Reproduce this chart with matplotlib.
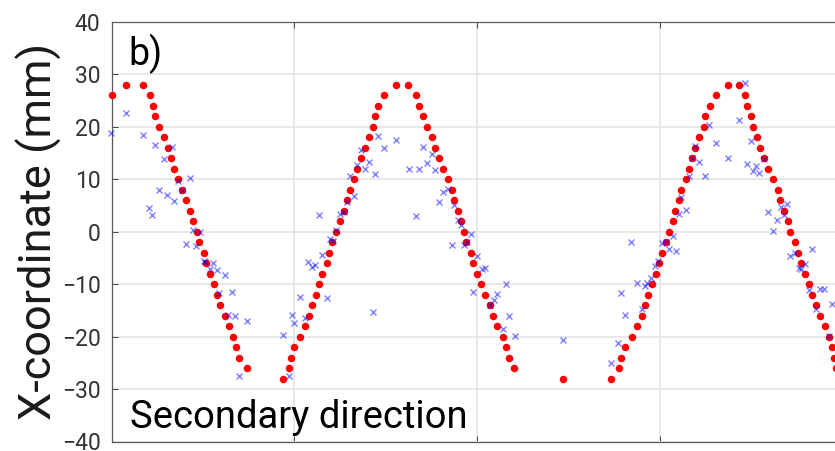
import matplotlib
matplotlib.use("Agg")
import matplotlib.pyplot as plt

# Reference trajectory (red dots): time [s] and X-coordinate [mm]
ref_t = [0.003, 0.079, 0.171, 0.209, 0.226, 0.240, 0.262, 0.286, 0.308, 0.327,
         0.344, 0.366, 0.386, 0.406, 0.428, 0.448, 0.466, 0.481, 0.505, 0.517,
         0.537, 0.559, 0.577, 0.594, 0.623, 0.641, 0.663, 0.680, 0.700, 0.740,
         0.937, 0.970, 0.984, 1.001, 1.032, 1.059, 1.081, 1.099, 1.118, 1.137,
         1.152, 1.178, 1.189, 1.209, 1.230, 1.251, 1.273, 1.287, 1.307, 1.326,
         1.345, 1.367, 1.386, 1.408, 1.433, 1.444, 1.457, 1.492, 1.557, 1.625,
         1.668, 1.683, 1.705, 1.725, 1.753, 1.772, 1.793, 1.814, 1.840, 1.862,
         1.876, 1.897, 1.915, 1.928, 1.942, 1.966, 1.980, 2.002, 2.022, 2.044,
         2.072, 2.088, 2.110, 2.141, 2.159, 2.176, 2.205, 2.470, 2.736, 2.776,
         2.789, 2.811, 2.847, 2.878, 2.905, 2.920, 2.935, 2.958, 2.979, 2.998,
         3.015, 3.033, 3.050, 3.072, 3.086, 3.108, 3.117, 3.143, 3.163, 3.179,
         3.195, 3.216, 3.243, 3.248, 3.274, 3.307, 3.373, 3.435, 3.469, 3.477,
         3.499, 3.513, 3.531, 3.548, 3.571, 3.592, 3.619, 3.646, 3.661, 3.683,
         3.703, 3.714, 3.739, 3.759, 3.776, 3.796, 3.816, 3.834, 3.856, 3.878,
         3.905, 3.927, 3.945, 3.955, 3.966]
ref_x = [26, 28, 28, 26, 24, 22, 20, 18, 16, 14,
         12, 10, 8, 6, 4, 2, 0, -2, -4, -6,
         -8, -10, -12, -14, -16, -18, -20, -22, -24, -26,
         -28, -26, -24, -22, -20, -18, -16, -14, -12, -10,
         -8, -6, -4, -2, 0, 2, 4, 6, 8, 10,
         12, 14, 16, 18, 20, 22, 24, 26, 28, 28,
         26, 24, 22, 20, 18, 16, 14, 12, 10, 8,
         6, 4, 2, 0, -2, -4, -6, -8, -10, -12,
         -14, -16, -18, -20, -22, -24, -26, -28, -28, -26,
         -24, -22, -20, -18, -16, -14, -12, -10, -8, -6,
         -4, -2, 0, 2, 4, 6, 8, 10, 12, 14,
         16, 18, 20, 22, 24, 26, 28, 28, 26, 24,
         22, 20, 18, 16, 14, 12, 10, 8, 6, 4,
         2, 0, -2, -4, -6, -8, -10, -12, -14, -16,
         -18, -20, -22, -24, -26]

# Measured positions (blue crosses)
meas_t = [-0.003, 0.078, 0.171, 0.238, 0.330, 0.286, 0.430, 0.362, 0.388, 0.260,
          0.305, 0.344, 0.207, 0.223, 0.448, 0.484, 0.406, 0.462, 0.505, 0.513,
          0.557, 0.537, 0.579, 0.620, 0.590, 0.660, 0.639, 0.678, 0.742, 0.700,
          0.937, 0.986, 1.001, 1.032, 1.059, 0.970, 1.077, 1.099, 1.114, 1.152,
          1.178, 1.136, 1.196, 1.211, 1.229, 1.252, 1.273, 1.289, 1.327, 1.305,
          1.344, 1.388, 1.409, 1.442, 1.366, 1.460, 1.492, 1.557, 1.433,
          1.707, 1.753, 1.727, 1.627, 1.683, 1.771, 1.843, 1.816, 1.793, 1.876,
          1.668, 1.898, 1.915, 1.968, 1.944, 1.929, 1.864, 2.002, 2.026, 2.044,
          1.980, 2.159, 2.112, 2.092, 2.073, 2.177, 2.143, 2.207,
          2.470, 2.736, 2.772, 2.787, 2.811, 2.843, 2.876, 2.905, 2.920, 2.933,
          2.953, 2.976, 2.993, 3.011, 3.033, 3.051, 3.072, 3.088, 3.108, 3.119,
          3.145, 3.163, 3.179, 3.195, 3.217, 3.250, 3.272, 3.307, 3.373, 3.435,
          3.467, 3.499, 3.478, 3.511, 3.529, 3.544, 3.571, 3.592, 3.621, 3.644,
          3.664, 3.682, 3.699, 3.715, 3.741, 3.765, 3.774, 3.796, 3.836, 3.818,
          3.878, 3.901, 3.856, 3.946, 3.927]
meas_x = [18.8, 22.7, 18.5, 16.5, 16.1, 13.8, 10.3, 9.7, 8.0, 7.9,
          7.0, 5.8, 4.5, 3.2, 0.3, 0.0, -2.4, -2.8, -5.5, -5.8,
          -5.9, -7.1, -7.2, -8.3, -11.6, -11.4, -15.8, -16.1, -17.1, -27.6,
          -19.7, -15.8, -17.4, -12.5, -16.5, -27.5, -5.8, -6.7, -6.3, -4.4,
          -12.7, 3.2, -1.3, -1.8, 0.4, 3.4, 3.7, 5.6, 6.8, 10.7,
          12.8, 12.0, 13.3, 11.0, 15.6, 18.3, 15.9, 17.5, -15.3,
          16.1, 14.9, 13.2, 11.9, 11.9, 11.7, 8.2, 7.5, 5.7, 5.1,
          3.0, 2.2, 1.3, -0.4, -2.0, -2.5, -2.5, -4.6, -7.1, -7.0,
          -11.4, -10.0, -11.9, -13.0, -14.0, -16.0, -18.5, -19.9,
          -20.7, -25.0, -21.2, -11.6, -15.8, -2.0, -9.8, -14.7, -10.3, -9.8,
          -8.8, -6.6, -5.5, -2.2, -2.0, -3.3, -0.9, -3.7, 3.4, 6.7,
          4.2, 10.7, 14.0, 16.4, 13.3, 10.7, 20.3, 16.9, 14.0, 21.3,
          28.4, 17.3, 12.9, 11.6, 12.6, 11.2, 13.9, 3.7, 0.1, 2.2,
          4.8, 3.2, 5.3, -4.6, -4.1, -6.9, -7.1, -6.1, -3.3, -11.2,
          -10.9, -11.0, -14.7, -13.8, -19.9]

y_ticks = [-40, -30, -20, -10, 0, 10, 20, 30, 40]
x_grid = [1, 2, 3]

plt.rcParams["font.family"] = ["Roboto", "DejaVu Sans"]

W, H = 835, 451
fig = plt.figure(figsize=(W / 100, H / 100), dpi=100)
left, right, top, bottom = 111.5, 835, 22, 441.5
ax = fig.add_axes([left / W, (H - bottom) / H, (right - left) / W, (bottom - top) / H])

ax.set_xlim(0, (right - left) / 182.7)
ax.set_ylim(-40, 40)
ax.set_yticks(y_ticks)
ax.set_xticks(x_grid)

ax.grid(True, color="#e2e2e2", linewidth=1.1)
ax.set_axisbelow(True)

ax.plot(ref_t, ref_x, linestyle="none", marker="o", markersize=5.4,
        markeredgewidth=0, color="#ff0000", clip_on=False, zorder=3)
ax.plot(meas_t, meas_x, linestyle="none", marker="x", markersize=4.0,
        markeredgewidth=1.0, color="#0000ff", alpha=0.5, clip_on=False, zorder=4)

for side in ("left", "top", "bottom"):
    ax.spines[side].set_color("#5a5a5a")
    ax.spines[side].set_linewidth(0.9)
ax.spines["right"].set_visible(False)

ax.tick_params(axis="y", direction="in", length=4, width=0.7, color="#444444",
               labelsize=16.5, labelcolor="#333333", pad=8)
ax.tick_params(axis="x", direction="in", length=4, width=0.7, color="#444444",
               top=True, labelbottom=False)

fig.text(38.5 / W, 0.5 * ((H - bottom) / H + (H - top) / H), "X-coordinate (mm)",
         rotation=90, ha="center", va="center", fontsize=32.5, color="#1a1a1a")

ax.text(0.024, 0.8975, "b)", transform=ax.transAxes, fontsize=27,
        color="#000000", ha="left", va="baseline")
ax.text(0.025, 0.033, "Secondary direction", transform=ax.transAxes,
        fontsize=27.5, color="#000000", ha="left", va="baseline")

fig.savefig("out.png", dpi=100, facecolor="white")
